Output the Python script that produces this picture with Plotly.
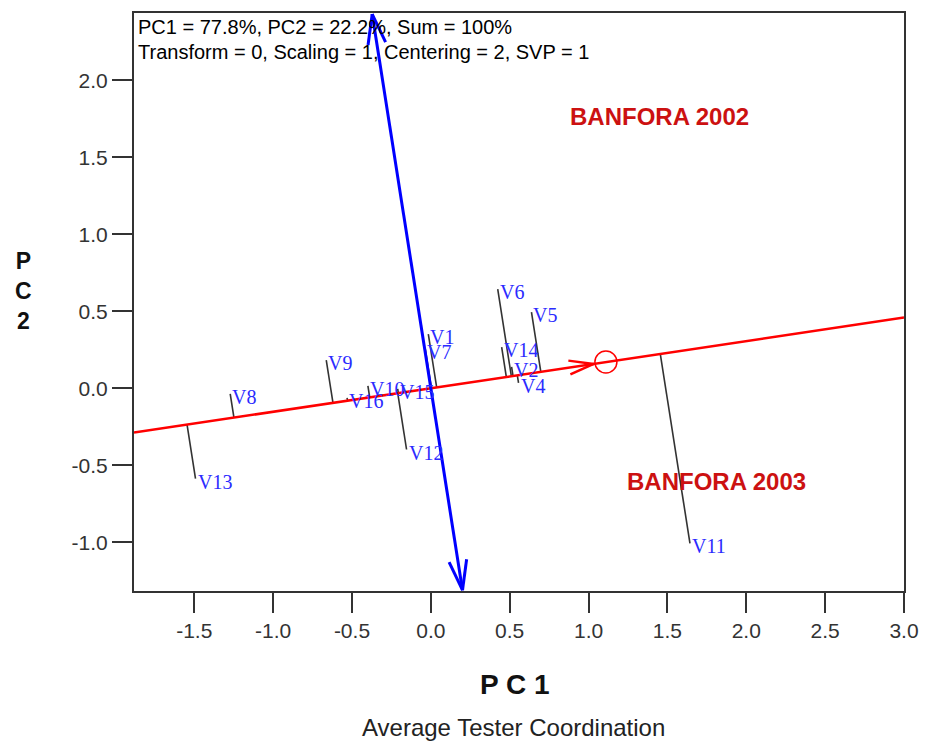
import numpy as np
import plotly.graph_objects as go

# ---------------- data ----------------
genotypes = ["V1", "V2", "V4", "V5", "V6", "V7", "V8", "V9", "V10", "V11",
             "V12", "V13", "V14", "V15", "V16"]
pc1 = [-0.016, 0.512, 0.556, 0.638, 0.424, -0.035, -1.272, -0.663, -0.399, 1.643,
       -0.154, -1.492, 0.449, -0.210, -0.531]
pc2 = [0.352, 0.138, 0.034, 0.494, 0.643, 0.254, -0.037, 0.183, 0.015, -1.008,
       -0.398, -0.587, 0.267, -0.005, -0.063]

environments = ["BANFORA 2002", "BANFORA 2003"]
env_label_pc1 = [0.87, 1.234]
env_label_pc2 = [1.762, -0.606]

avg_env = (1.11, 0.17)        # average environment (circle)
atc_slope = 0.153             # slope of the average tester axis
atc_arrow_tip_pc1 = 1.033     # arrow tip on ATC abscissa

x_ticks = [-1.5, -1.0, -0.5, 0.0, 0.5, 1.0, 1.5, 2.0, 2.5, 3.0]
y_ticks = [-1.0, -0.5, 0.0, 0.5, 1.0, 1.5, 2.0]
x_range = [-1.882, 3.0]
y_range = [-1.317, 2.437]

info_lines = ["PC1 = 77.8%, PC2 = 22.2%, Sum = 100%",
              "Transform = 0, Scaling = 1, Centering = 2, SVP = 1"]

# ---------------- layout geometry ----------------
W, H = 930, 742
ml, mr, mt, mb = 134, 15, 11, 151
pw, ph = W - ml - mr, H - mt - mb
sx = pw / (x_range[1] - x_range[0])   # px per unit
sy = ph / (y_range[1] - y_range[0])


def arrow_wings(tip, direction, length=26, half=8):
    """V arrowhead at tip (data), direction in data units; sizes in px."""
    dx, dy = direction[0] * sx, direction[1] * sy
    n = np.hypot(dx, dy)
    ux, uy = dx / n, dy / n
    px, py = -uy, ux
    xs, ys = [], []
    for s in (1, -1):
        bx = -ux * length + s * px * half
        by = -uy * length + s * py * half
        xs += [tip[0] + bx / sx, tip[0], None]
        ys += [tip[1] + by / sy, tip[1], None]
    return xs, ys


fig = go.Figure()

# projection lines from genotypes to ATC abscissa
u = np.array([1.0, atc_slope]) / np.hypot(1.0, atc_slope)
lx, ly = [], []
for x, y in zip(pc1, pc2):
    t = x * u[0] + y * u[1]
    lx += [x, t * u[0], None]
    ly += [y, t * u[1], None]
fig.add_trace(go.Scatter(x=lx, y=ly, mode="lines",
                         line=dict(color="#333333", width=1.6), hoverinfo="skip"))

# ATC abscissa (red)
fig.add_trace(go.Scatter(x=[x_range[0], x_range[1]],
                         y=[atc_slope * x_range[0], atc_slope * x_range[1]],
                         mode="lines", line=dict(color="#ff0000", width=2.5),
                         hoverinfo="skip"))
tip = (atc_arrow_tip_pc1, atc_slope * atc_arrow_tip_pc1)
wx, wy = arrow_wings(tip, (1.0, atc_slope), length=25, half=7)
fig.add_trace(go.Scatter(x=wx, y=wy, mode="lines",
                         line=dict(color="#ff0000", width=2.5), hoverinfo="skip"))
fig.add_trace(go.Scatter(x=[avg_env[0]], y=[avg_env[1]], mode="markers",
                         marker=dict(symbol="circle-open", size=22,
                                     line=dict(color="#ff0000", width=1.5),
                                     color="#ff0000"),
                         hoverinfo="skip"))

# ATC ordinate (blue), perpendicular to the abscissa, double arrow
y_top, y_bot = 2.43, y_range[0] + 0.005
top = (-atc_slope * y_top, y_top)
bot = (-atc_slope * y_bot, y_bot)
fig.add_trace(go.Scatter(x=[top[0], bot[0]], y=[top[1], bot[1]], mode="lines",
                         line=dict(color="#0000ff", width=3), hoverinfo="skip"))
for tp, d in ((top, (-atc_slope, 1.0)), (bot, (atc_slope, -1.0))):
    wx, wy = arrow_wings(tp, d, length=30, half=9)
    fig.add_trace(go.Scatter(x=wx, y=wy, mode="lines",
                             line=dict(color="#0000ff", width=3), hoverinfo="skip"))

annotations = []
# genotype labels
for name, x, y in zip(genotypes, pc1, pc2):
    annotations.append(dict(x=x, y=y, text=name, showarrow=False,
                            xanchor="left", yanchor="middle", yshift=-3,
                            font=dict(family="Liberation Serif", size=20,
                                      color="#2b2bff")))
# environment labels
for name, x, y in zip(environments, env_label_pc1, env_label_pc2):
    annotations.append(dict(x=x, y=y, text="<b>%s</b>" % name, showarrow=False,
                            xanchor="left", yanchor="middle",
                            font=dict(family="Liberation Sans", size=24,
                                      color="#cc1111")))
# info text
for i, line in enumerate(info_lines):
    annotations.append(dict(xref="paper", yref="paper",
                            x=(136 - ml) / pw, y=(H - mb - (25 + 25.5 * i)) / ph,
                            text=line, showarrow=False, xanchor="left",
                            yanchor="middle",
                            font=dict(family="Liberation Sans", size=20,
                                      color="#000000")))
# axis titles
annotations.append(dict(xref="paper", yref="paper", x=(520 - ml) / pw,
                        y=(H - mb - 685) / ph, text="<b>P C 1</b>",
                        showarrow=False, xanchor="center", yanchor="middle",
                        font=dict(family="Liberation Sans", size=28,
                                  color="#111111")))
annotations.append(dict(xref="paper", yref="paper", x=(22 - ml) / pw,
                        y=(H - mb - 290) / ph, text="<b>P<br>C<br>2</b>",
                        showarrow=False, xanchor="center", yanchor="middle",
                        font=dict(family="Liberation Sans", size=23,
                                  color="#111111")))
annotations.append(dict(xref="paper", yref="paper", x=(519 - ml) / pw,
                        y=(H - mb - 728) / ph, text="Average Tester Coordination",
                        showarrow=False, xanchor="center", yanchor="middle",
                        font=dict(family="Liberation Sans", size=24,
                                  color="#222222")))

axis_common = dict(showgrid=False, zeroline=False, showline=True, mirror=True,
                   linecolor="#333333", linewidth=2, ticks="outside",
                   tickcolor="#333333", tickwidth=2, ticklen=20,
                   tickfont=dict(family="Liberation Sans", size=21,
                                 color="#333333"))

fig.update_layout(
    width=W, height=H, showlegend=False,
    margin=dict(l=ml, r=mr, t=mt, b=mb),
    paper_bgcolor="white", plot_bgcolor="white",
    xaxis=dict(range=x_range, tickvals=x_ticks,
               ticktext=["%.1f" % v for v in x_ticks], **axis_common),
    yaxis=dict(range=y_range, tickvals=y_ticks,
               ticktext=["%.1f" % v for v in y_ticks], **axis_common),
    annotations=annotations,
)

fig.write_html("out.html")
